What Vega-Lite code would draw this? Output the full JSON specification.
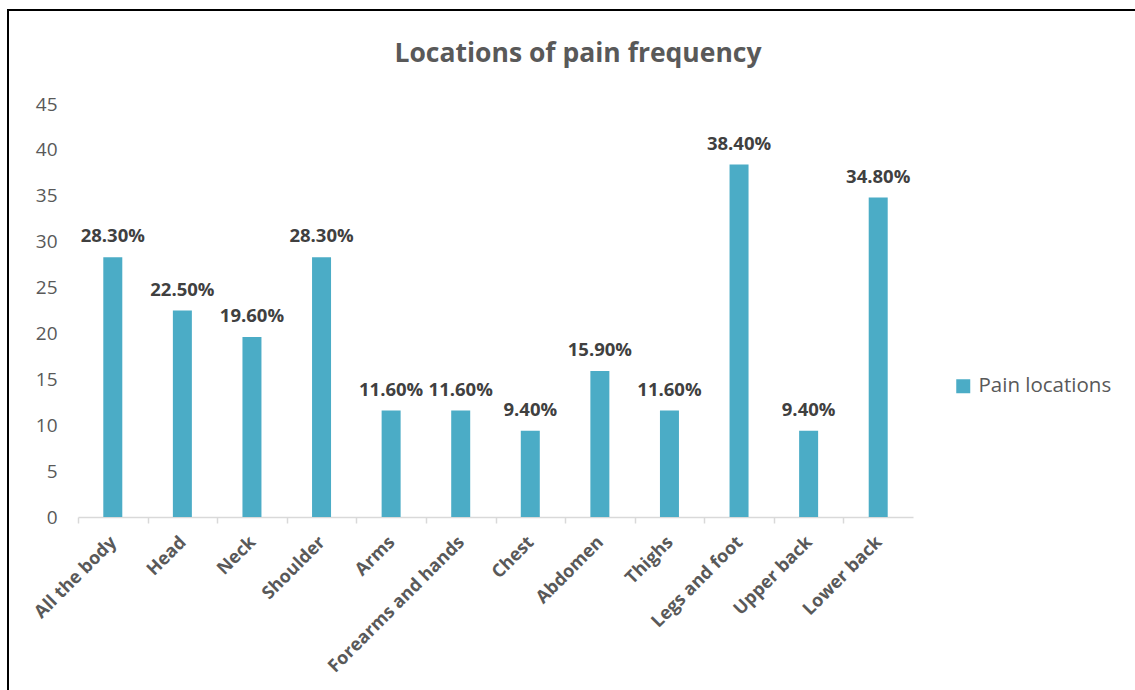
{
  "$schema": "https://vega.github.io/schema/vega-lite/v6.json",
  "autosize": "none",
  "padding": {"left": 8, "top": 10, "right": 0, "bottom": 0},
  "width": 1140,
  "height": 690,
  "background": "white",
  "title": {
    "text": "Locations of pain frequency",
    "font": "Open Sans",
    "fontSize": 26.5,
    "fontWeight": "bold",
    "color": "#595959",
    "anchor": "middle",
    "offset": -57
  },
  "data": {
    "values": [
      {"location": "All the body", "value": 28.3, "label": "28.30%"},
      {"location": "Head", "value": 22.5, "label": "22.50%"},
      {"location": "Neck", "value": 19.6, "label": "19.60%"},
      {"location": "Shoulder", "value": 28.3, "label": "28.30%"},
      {"location": "Arms", "value": 11.6, "label": "11.60%"},
      {"location": "Forearms and hands", "value": 11.6, "label": "11.60%"},
      {"location": "Chest", "value": 9.4, "label": "9.40%"},
      {"location": "Abdomen", "value": 15.9, "label": "15.90%"},
      {"location": "Thighs", "value": 11.6, "label": "11.60%"},
      {"location": "Legs and foot", "value": 38.4, "label": "38.40%"},
      {"location": "Upper back", "value": 9.4, "label": "9.40%"},
      {"location": "Lower back", "value": 34.8, "label": "34.80%"}
    ]
  },
  "encoding": {
    "x": {
      "field": "location",
      "type": "nominal",
      "sort": null,
      "scale": {"range": [70, 905], "paddingInner": 0.727, "paddingOuter": 0.3635},
      "axis": {
        "title": null,
        "offset": -183,
        "labelAngle": -45,
        "labelFont": "Open Sans",
        "labelFontSize": 18,
        "labelFontWeight": "bold",
        "labelColor": "#595959",
        "labelPadding": 10,
        "labelLimit": 400,
        "domainColor": "#D9D9D9",
        "domainWidth": 1.5,
        "tickColor": "#D9D9D9",
        "tickWidth": 1.5,
        "tickSize": 6,
        "tickOffset": -34.79,
        "labelOffset": 29,
        "grid": false
      }
    },
    "y": {
      "field": "value",
      "type": "quantitative",
      "scale": {"domain": [0, 45], "range": [507, 94], "nice": false},
      "axis": {
        "title": null,
        "offset": -70,
        "values": [0, 5, 10, 15, 20, 25, 30, 35, 40, 45],
        "domain": false,
        "ticks": false,
        "grid": false,
        "labelFont": "Open Sans",
        "labelFontSize": 19,
        "labelColor": "#595959",
        "labelPadding": 21
      }
    }
  },
  "layer": [
    {
      "mark": {"type": "bar", "clip": false},
      "encoding": {
        "color": {
          "datum": "Pain locations",
          "type": "nominal",
          "scale": {"range": ["#4BACC6"]},
          "legend": {
            "title": null,
            "orient": "none",
            "legendX": 945,
            "legendY": 366,
            "symbolType": "square",
            "symbolSize": 196,
            "symbolStrokeWidth": 0,
            "labelFont": "Open Sans",
            "labelFontSize": 20.5,
            "labelColor": "#595959",
            "labelOffset": 5,
            "padding": 0
          }
        }
      }
    },
    {
      "mark": {
        "type": "text",
        "font": "Open Sans",
        "fontSize": 18.5,
        "fontWeight": "bold",
        "color": "#404040",
        "baseline": "alphabetic",
        "dy": -15
      },
      "encoding": {
        "text": {"field": "label"}
      }
    }
  ],
  "config": {
    "view": {"stroke": "black", "strokeWidth": 2}
  }
}
